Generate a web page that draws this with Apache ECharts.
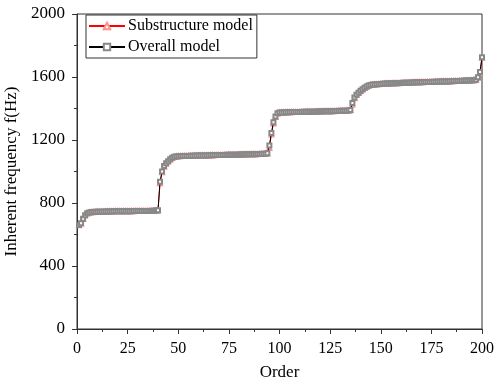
<!DOCTYPE html>
<html>
<head>
<meta charset="utf-8">
<script src="https://cdn.jsdelivr.net/npm/echarts@6/dist/echarts.min.js"></script>
<style>
html,body{margin:0;padding:0;background:#fff;}
#c{width:495px;height:381px;}
</style>
</head>
<body>
<div id="c"></div>
<script>
var seriesNames = ['Substructure model', 'Overall model'];
var xTicks = [0, 25, 50, 75, 100, 125, 150, 175, 200];
var yTicks = [0, 400, 800, 1200, 1600, 2000];

var overall = [
660,672,700,722,735,740,742,743,744,744,
745,745,745,746,746,746,746,747,747,747,
747,747,748,748,748,748,748,749,749,749,
749,749,750,750,750,750,751,751,752,754,
935,1000,1035,1052,1065,1078,1088,1093,1096,1097,
1098,1098,1099,1099,1099,1100,1100,1100,1101,1101,
1101,1102,1102,1102,1103,1103,1103,1104,1104,1104,
1105,1105,1105,1106,1106,1106,1107,1107,1107,1108,
1108,1108,1109,1109,1109,1110,1110,1110,1111,1111,
1111,1112,1113,1116,1165,1245,1312,1350,1370,1374,
1375,1375,1376,1376,1376,1377,1377,1377,1378,1378,
1378,1379,1379,1379,1380,1380,1380,1381,1381,1381,
1382,1382,1382,1383,1383,1383,1384,1384,1384,1385,
1385,1386,1386,1387,1390,1435,1470,1488,1500,1512,
1522,1532,1540,1546,1550,1552,1553,1554,1555,1556,
1557,1558,1558,1559,1560,1560,1561,1561,1562,1562,
1563,1563,1564,1564,1565,1565,1566,1566,1567,1567,
1568,1568,1568,1569,1569,1570,1570,1570,1571,1571,
1572,1572,1572,1573,1573,1574,1574,1575,1575,1576,
1576,1577,1577,1578,1579,1580,1583,1598,1632,1725
];

var substructure = [
658,670,698,720,734,739,741,742,743,744,
744,745,745,745,746,746,746,746,747,747,
747,747,747,748,748,748,748,748,749,749,
749,749,749,750,750,750,750,751,751,753,
925,995,1030,1050,1063,1076,1087,1092,1095,1097,
1097,1098,1098,1099,1099,1099,1100,1100,1100,1101,
1101,1101,1102,1102,1102,1103,1103,1103,1104,1104,
1104,1105,1105,1105,1106,1106,1106,1107,1107,1107,
1108,1108,1108,1109,1109,1109,1110,1110,1110,1111,
1111,1111,1112,1115,1150,1235,1305,1346,1368,1373,
1374,1375,1375,1376,1376,1376,1377,1377,1377,1378,
1378,1378,1379,1379,1379,1380,1380,1380,1381,1381,
1381,1382,1382,1382,1383,1383,1383,1384,1384,1384,
1385,1385,1386,1386,1389,1425,1465,1485,1498,1510,
1520,1530,1538,1545,1549,1551,1552,1553,1554,1555,
1556,1557,1558,1558,1559,1560,1560,1561,1561,1562,
1562,1563,1563,1564,1564,1565,1565,1566,1566,1567,
1567,1568,1568,1568,1569,1569,1570,1570,1570,1571,
1571,1572,1572,1572,1573,1573,1574,1574,1575,1575,
1576,1576,1577,1577,1578,1579,1582,1595,1625,1722
];

function pairs(vals) {
  var out = [];
  for (var i = 0; i < vals.length; i++) out.push([i + 1, vals[i]]);
  return out;
}

var font = 'Liberation Serif';
var chart = echarts.init(document.getElementById('c'), null, {renderer: 'canvas'});
chart.setOption({
  animation: false,
  backgroundColor: '#fff',
  textStyle: {fontFamily: font, color: '#000'},
  grid: {left: 77, right: 13, top: 14, bottom: 52, containLabel: false, outerBoundsMode: 'none',
         show: true, borderColor: '#333', borderWidth: 1, backgroundColor: 'transparent'},
  legend: {
    left: 86, top: 15, orient: 'vertical',
    data: seriesNames,
    itemWidth: 36, itemHeight: 8, itemGap: 5,
    borderColor: '#333', borderWidth: 1, padding: [3, 4, 3, 2],
    textStyle: {fontFamily: font, fontSize: 16, color: '#000', padding: [0, 0, 0, -2]}
  },
  xAxis: {
    type: 'value', min: xTicks[0], max: xTicks[xTicks.length - 1], interval: 25,
    name: 'Order', nameLocation: 'middle', nameGap: 35,
    nameTextStyle: {fontFamily: font, fontSize: 17, color: '#000'},
    axisLine: {onZero: false, lineStyle: {color: '#333', width: 1}},
    axisTick: {show: true, inside: false, length: 5, lineStyle: {color: '#333'}},
    minorTick: {show: true, splitNumber: 2, length: 3, lineStyle: {color: '#333'}},
    axisLabel: {fontFamily: font, fontSize: 16, color: '#000', margin: 12,
                formatter: function (v) { return String(v); }},
    splitLine: {show: false}
  },
  yAxis: {
    type: 'value', min: yTicks[0], max: yTicks[yTicks.length - 1], interval: 400,
    name: 'Inherent frequency f(Hz)', nameLocation: 'middle', nameGap: 41,
    nameTextStyle: {fontFamily: font, fontSize: 17, color: '#000'},
    axisLine: {show: true, onZero: false, lineStyle: {color: '#333', width: 1}},
    axisTick: {show: true, inside: false, length: 5, lineStyle: {color: '#333'}},
    minorTick: {show: true, splitNumber: 2, length: 3, lineStyle: {color: '#333'}},
    axisLabel: {fontFamily: font, fontSize: 17, color: '#000', margin: 12,
                formatter: function (v) { return String(v); }},
    splitLine: {show: false}
  },
  series: [
    {
      name: seriesNames[0], type: 'line', data: pairs(substructure),
      symbol: 'emptyTriangle', symbolSize: 4, showAllSymbol: true,
      lineStyle: {color: '#ff0000', width: 1},
      itemStyle: {color: '#ff9090', borderColor: '#ff9090', borderWidth: 0.5},
      z: 2
    },
    {
      name: seriesNames[1], type: 'line', data: pairs(overall),
      symbol: 'emptyRect', symbolSize: 4, showAllSymbol: true,
      lineStyle: {color: '#000', width: 1},
      itemStyle: {color: '#888', borderColor: '#888', borderWidth: 0.5},
      z: 3
    }
  ]
});
</script>
</body>
</html>
